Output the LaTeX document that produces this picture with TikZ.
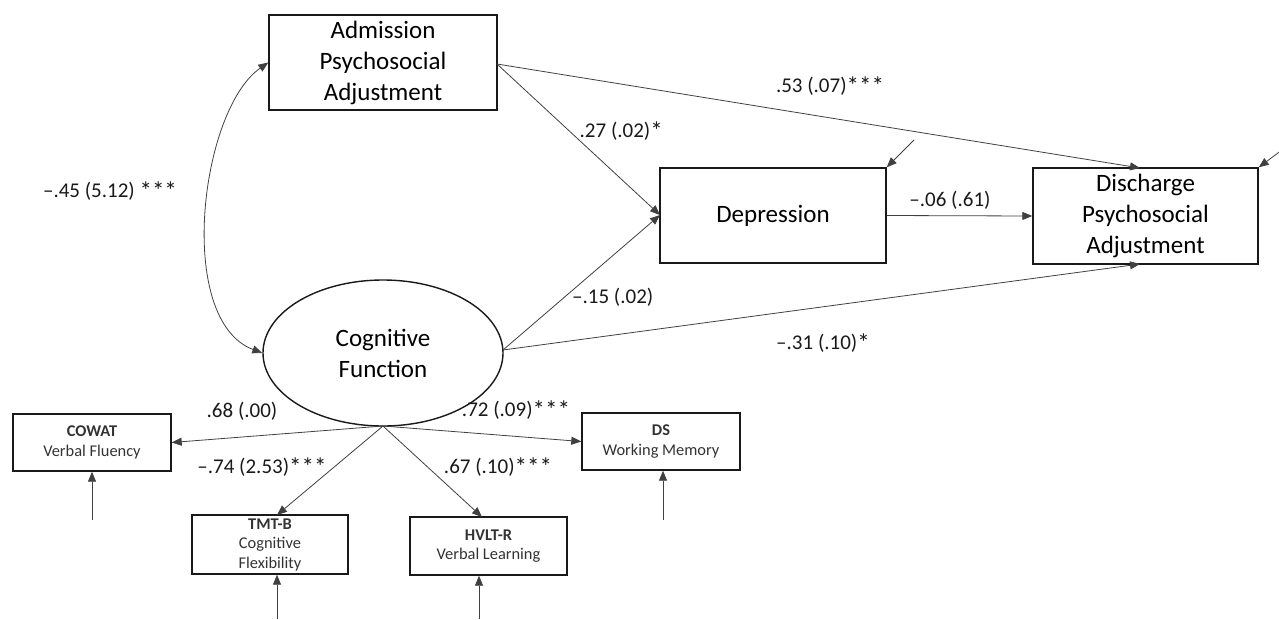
\documentclass[tikz,border=0pt]{standalone}
\usepackage{fontspec}
\setmainfont{Carlito}
\usetikzlibrary{arrows.meta,shapes.geometric}
\newcommand{\stars}[1]{\raisebox{-1.5pt}{\fontsize{25}{25}\selectfont #1}}
\begin{document}
\begin{tikzpicture}[x=1pt,y=-1pt,
  bigbox/.style={draw=black!90,line width=1.4pt,inner sep=0pt,align=center,font=\fontsize{25}{31}\selectfont},
  smallbox/.style={draw=black!90,line width=1.4pt,inner sep=0pt,align=center,font=\fontsize{16.4}{19.5}\selectfont,text=black!80},
  lat/.style={draw=black!90,line width=1.4pt,ellipse,inner sep=0pt,align=center,font=\fontsize{25}{31}\selectfont},
  arr/.style={draw=black!75,line width=0.8pt,-{Triangle[length=10pt,width=8pt]}},
  darr/.style={draw=black!75,line width=0.8pt,{Triangle[length=10pt,width=8pt]}-{Triangle[length=10pt,width=8pt]}},
  lab/.style={font=\fontsize{21}{24}\selectfont,text=black!90,inner sep=0pt}]
\useasboundingbox (0,0) rectangle (1279,619);

\node[bigbox,minimum width=228pt,minimum height=95pt] (adm) at (383,62.5) {Admission\\Psychosocial\\Adjustment};
\node[bigbox,minimum width=226pt,minimum height=95pt] (dep) at (773,215.5) {Depression};
\node[bigbox,minimum width=225pt,minimum height=96pt] (dis) at (1145.5,216) {Discharge\\Psychosocial\\Adjustment};
\node[lat,minimum width=240pt,minimum height=146pt] (cog) at (383,353) {Cognitive\\Function};

\node[smallbox,minimum width=158pt,minimum height=57pt] (cowat) at (92,442.5) {\textbf{COWAT}\\Verbal Fluency};
\node[smallbox,minimum width=158pt,minimum height=57pt] (ds) at (661,441.5) {\textbf{DS}\\Working Memory};
\node[smallbox,minimum width=156pt,minimum height=59pt] (tmt) at (270,544.5) {\textbf{TMT-B}\\Cognitive\\Flexibility};
\node[smallbox,minimum width=157pt,minimum height=58pt] (hvlt) at (488.5,546) {\textbf{HVLT-R}\\Verbal Learning};

% anchors
\coordinate (admR) at (497,64);
\coordinate (cogR) at (503,350);
\coordinate (cogB) at (383,426);
\coordinate (depL) at (660,215);
\coordinate (disT) at (1140,168);
\coordinate (disB) at (1140,264);

% structural paths
\draw[arr] (admR) -- (depL);
\draw[arr] (cogR) -- (depL);
\draw[arr] (admR) -- (disT);
\draw[arr] (cogR) -- (disB);
\draw[arr] (dep.east) -- (dis.west);

% covariance
\draw[darr] (adm.west) .. controls (200,110) and (175,320) .. (cog.west);

% loadings
\draw[arr] (cogB) -- (cowat.east);
\draw[arr] (cogB) -- (ds.west);
\draw[arr] (cogB) -- (277,515);
\draw[arr] (cogB) -- (482,517);

% error terms
\coordinate (eDep) at (914,140);
\coordinate (eDis) at (1286,147);
\coordinate (eCow) at (92,520);
\coordinate (eDs) at (663,520);
\coordinate (eTmt) at (277,619);
\coordinate (eHv) at (479,619);
\draw[arr] (eDep) -- (dep.north east);
\draw[arr] (eDis) -- (dis.north east);
\draw[arr] (eCow) -- (eCow |- cowat.south);
\draw[arr] (eDs) -- (eDs |- ds.south);
\draw[arr] (eTmt) -- (eTmt |- tmt.south);
\draw[arr] (eHv) -- (eHv |- hvlt.south);

% labels
\node[lab] at (110,191) {–.45 (5.12) \stars{***}};
\node[lab] at (830,86) {.53 (.07)\stars{***}};
\node[lab,anchor=east] at (663,131) {.27 (.02)\stars{*}};
\node[lab] at (950,200) {–.06 (.61)};
\node[lab,anchor=west] at (572,297) {–.15 (.02)};
\node[lab] at (823,343) {–.31 (.10)\stars{*}};
\node[lab] at (242,411) {.68 (.00)};
\node[lab] at (516,410) {.72 (.09)\stars{***}};
\node[lab] at (262,467) {–.74 (2.53)\stars{***}};
\node[lab] at (498,467) {.67 (.10)\stars{***}};
\end{tikzpicture}
\end{document}
